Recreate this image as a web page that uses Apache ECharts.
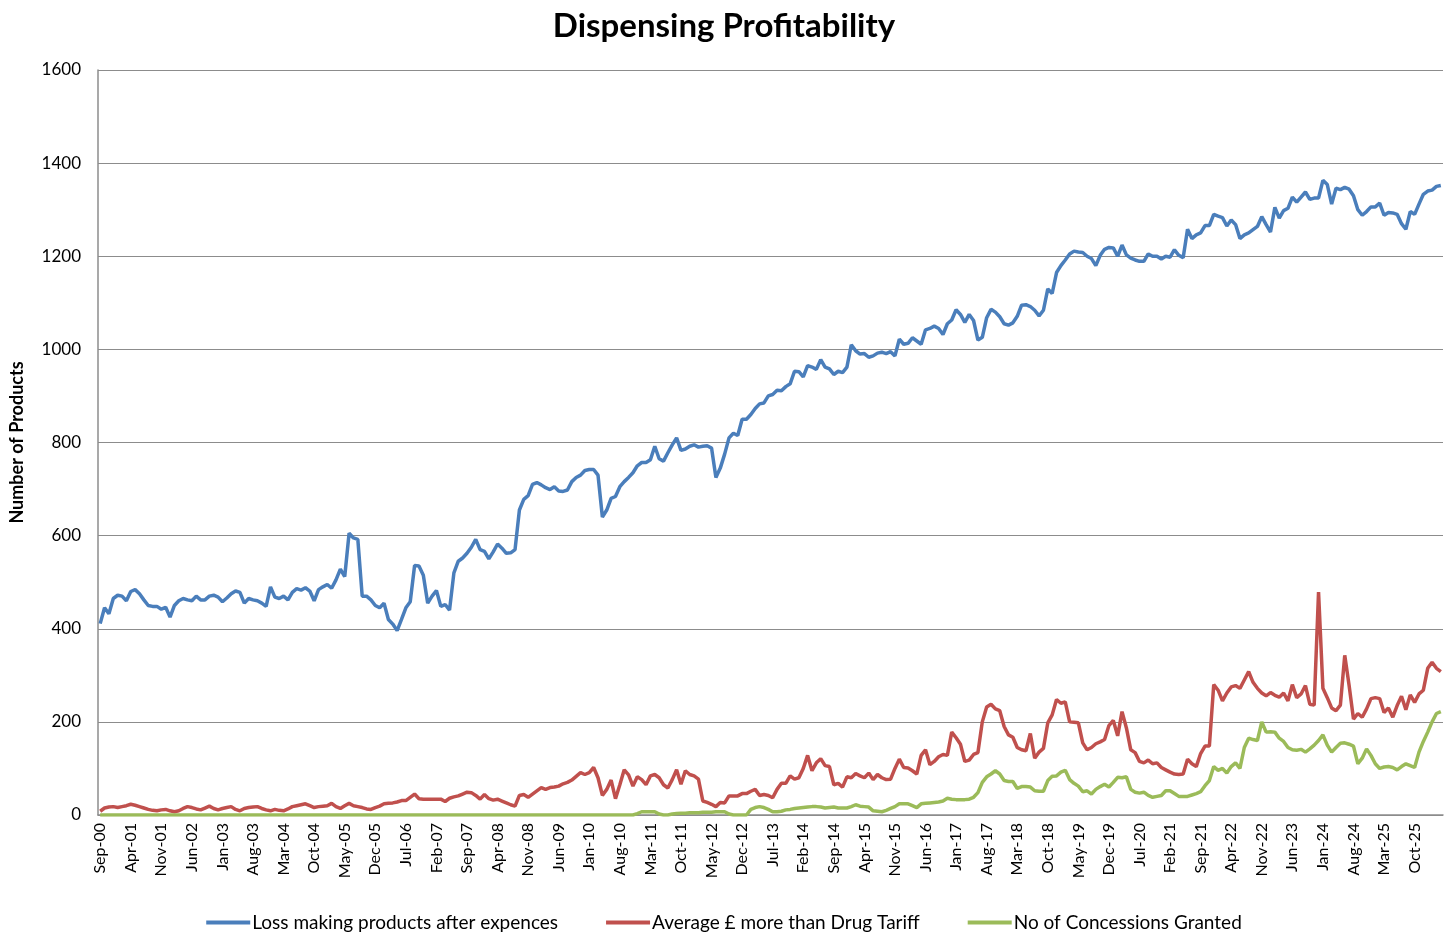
<!DOCTYPE html>
<html>
<head>
<meta charset="utf-8">
<script src="https://cdn.jsdelivr.net/npm/echarts@6/dist/echarts.min.js"></script>
<style>
  html, body { margin: 0; padding: 0; background: #fff; }
  #chart { width: 1448px; height: 934px; }
</style>
</head>
<body>
<div id="chart"></div>
<script>
// monthly from Sep-00
const startYear = 2000;
const startMonth = 8; // Sep (0-based)
const monthNames = ["Jan", "Feb", "Mar", "Apr", "May", "Jun", "Jul", "Aug", "Sep", "Oct", "Nov", "Dec"];

const lossMaking = [
  411,445,432,465,472,470,460,480,484,475,
  462,450,448,448,442,446,425,450,460,465,
  462,460,470,462,462,470,472,468,458,466,
  475,481,478,455,465,462,460,455,448,490,
  468,465,470,462,478,486,483,488,481,460,
  484,490,495,487,505,528,512,605,595,592,
  470,470,462,450,445,455,420,410,396,420,
  445,458,536,535,515,455,470,482,448,452,
  440,520,545,552,562,575,592,570,566,550,
  565,582,573,562,563,570,655,678,686,710,
  714,709,703,699,705,696,695,698,716,725,
  730,740,742,742,730,640,655,680,684,705,
  716,725,735,750,757,757,763,792,765,760,
  778,795,810,783,786,792,795,790,792,793,
  788,725,745,775,810,820,815,850,850,860,
  873,883,885,900,903,912,911,920,926,953,
  952,941,965,962,957,978,962,958,946,953,
  950,962,1010,997,990,991,983,986,992,994,
  991,995,986,1022,1011,1013,1025,1018,1011,1042,
  1045,1050,1045,1032,1055,1063,1085,1075,1058,1075,
  1062,1020,1026,1068,1086,1080,1070,1055,1052,1057,
  1071,1095,1096,1092,1084,1072,1084,1130,1120,1165,
  1180,1192,1205,1211,1209,1208,1200,1195,1180,1202,
  1215,1219,1218,1200,1224,1203,1196,1192,1189,1189,
  1205,1200,1200,1194,1200,1198,1214,1202,1197,1258,
  1238,1246,1250,1266,1266,1290,1286,1283,1265,1278,
  1268,1238,1246,1250,1257,1264,1285,1268,1252,1305,
  1282,1298,1303,1327,1316,1327,1338,1322,1325,1325,
  1363,1354,1312,1346,1343,1348,1344,1330,1300,1288,
  1296,1306,1306,1314,1288,1294,1293,1290,1270,1258,
  1296,1290,1312,1333,1340,1342,1350,1352
];

const avgMoreThanTariff = [
  8,15,17,18,16,18,20,23,21,18,
  15,12,10,9,11,12,9,7,9,14,
  18,16,13,11,15,19,14,11,14,16,
  18,12,9,14,16,17,18,14,11,9,
  12,10,9,13,18,20,22,24,20,16,
  18,19,20,25,18,14,20,25,20,18,
  16,13,12,16,19,24,25,26,28,31,
  31,38,45,35,34,34,34,34,34,29,
  36,39,41,45,49,48,42,34,44,35,
  32,34,30,26,22,19,42,44,38,45,
  52,59,55,59,60,62,67,70,75,83,
  91,87,91,102,80,42,55,75,35,65,
  97,86,62,82,76,65,84,87,80,65,
  58,76,97,66,95,87,84,77,30,27,
  23,18,27,26,41,41,41,46,46,51,
  55,42,44,42,37,55,68,68,84,77,
  80,100,128,95,112,121,106,104,65,68,
  60,82,80,89,84,80,90,76,87,80,
  76,77,100,120,102,101,95,88,128,140,
  108,115,125,130,128,178,166,152,115,118,
  130,134,200,232,238,228,224,190,172,167,
  145,140,138,175,122,135,143,198,215,248,
  240,243,200,199,198,155,140,145,153,157,
  162,192,203,170,222,187,140,134,115,112,
  118,110,112,102,97,92,88,87,88,120,
  110,104,132,148,148,280,268,245,262,275,
  278,272,290,308,285,272,262,256,263,257,
  253,262,245,280,252,260,278,238,236,479,
  272,252,230,224,236,343,278,206,218,210,
  228,250,252,250,220,230,210,235,255,226,
  258,242,260,268,315,328,315,308
];

const concessions = [
  0,0,0,0,0,0,0,0,0,0,
  0,0,0,0,0,0,0,0,0,0,
  0,0,0,0,0,0,0,0,0,0,
  0,0,0,0,0,0,0,0,0,0,
  0,0,0,0,0,0,0,0,0,0,
  0,0,0,0,0,0,0,0,0,0,
  0,0,0,0,0,0,0,0,0,0,
  0,0,0,0,0,0,0,0,0,0,
  0,0,0,0,0,0,0,0,0,0,
  0,0,0,0,0,0,0,0,0,0,
  0,0,0,0,0,0,0,0,0,0,
  0,0,0,0,0,0,0,0,0,0,
  0,0,0,3,7,7,7,7,2,0,
  0,2,3,4,4,5,5,5,6,6,
  6,7,7,7,2,0,0,0,0,12,
  16,18,16,12,7,7,8,11,12,14,
  15,16,17,18,18,17,15,16,17,15,
  15,15,18,22,19,18,17,9,8,7,
  10,14,18,24,24,24,20,16,24,25,
  26,27,28,30,36,34,33,33,33,34,
  38,48,70,82,88,95,88,74,72,72,
  57,61,61,60,52,51,51,74,83,84,
  92,96,76,68,62,50,52,45,55,61,
  66,60,70,81,80,82,55,49,47,49,
  42,38,40,42,52,52,46,40,40,40,
  43,46,50,63,74,104,96,100,90,104,
  112,100,145,165,162,160,200,178,179,178,
  165,158,145,140,139,141,135,142,150,160,
  172,150,135,145,154,155,152,148,110,122,
  142,128,110,100,103,104,102,97,104,110,
  106,102,135,158,178,200,218,222
];

const months = [];
for (let i = 0; i < lossMaking.length; i++) {
  const m = (startMonth + i) % 12;
  const y = startYear + Math.floor((startMonth + i) / 12);
  months.push(monthNames[m] + "-" + String(y % 100).padStart(2, "0"));
}

const font = "Lato, 'Open Sans', sans-serif";
const chart = echarts.init(document.getElementById("chart"));

const lineSeries = (name, data, color) => ({
  name: name,
  type: "line",
  data: data,
  symbol: "none",
  smooth: false,
  lineStyle: { color: color, width: 3.5 },
  itemStyle: { color: color },
  animation: false
});

chart.setOption({
  backgroundColor: "#fff",
  title: {
    text: "Dispensing Profitability",
    left: "center",
    top: 5,
    textStyle: { fontFamily: font, fontSize: 33, fontWeight: "bold", color: "#000" }
  },
  legend: {
    bottom: -3,
    left: "center",
    icon: "rect",
    itemWidth: 44,
    itemHeight: 4,
    itemGap: 48,
    textStyle: { fontFamily: font, fontSize: 19, color: "#000", padding: [0, 0, 0, -3] },
    data: ["Loss making products after expences", "Average £ more than Drug Tariff", "No of Concessions Granted"]
  },
  grid: { left: 97, right: 5, top: 70, bottom: 119, containLabel: false },
  xAxis: {
    type: "category",
    data: months,
    boundaryGap: true,
    axisLine: { lineStyle: { color: "#8c8c8c", width: 1.5 } },
    axisTick: { show: false },
    axisLabel: {
      interval: 6,
      rotate: 90,
      fontFamily: font,
      fontSize: 16,
      color: "#000",
      margin: 8
    },
    splitLine: { show: false }
  },
  yAxis: {
    type: "value",
    min: 0,
    max: 1600,
    interval: 200,
    name: "Number of Products",
    nameLocation: "middle",
    nameGap: 72,
    nameTextStyle: { fontFamily: font, fontSize: 18, fontWeight: "bold", color: "#000" },
    axisLine: { show: true, lineStyle: { color: "#8c8c8c", width: 1.5 } },
    axisTick: { show: false },
    axisLabel: {
      fontFamily: font,
      fontSize: 17,
      color: "#000",
      margin: 17,
      formatter: (v) => String(v)
    },
    splitLine: { lineStyle: { color: "#8c8c8c", width: 1.2 } }
  },
  series: [
    lineSeries("Loss making products after expences", lossMaking, "#4a7ebb"),
    lineSeries("Average £ more than Drug Tariff", avgMoreThanTariff, "#c0504d"),
    lineSeries("No of Concessions Granted", concessions, "#9bbb59")
  ]
});
</script>
</body>
</html>
